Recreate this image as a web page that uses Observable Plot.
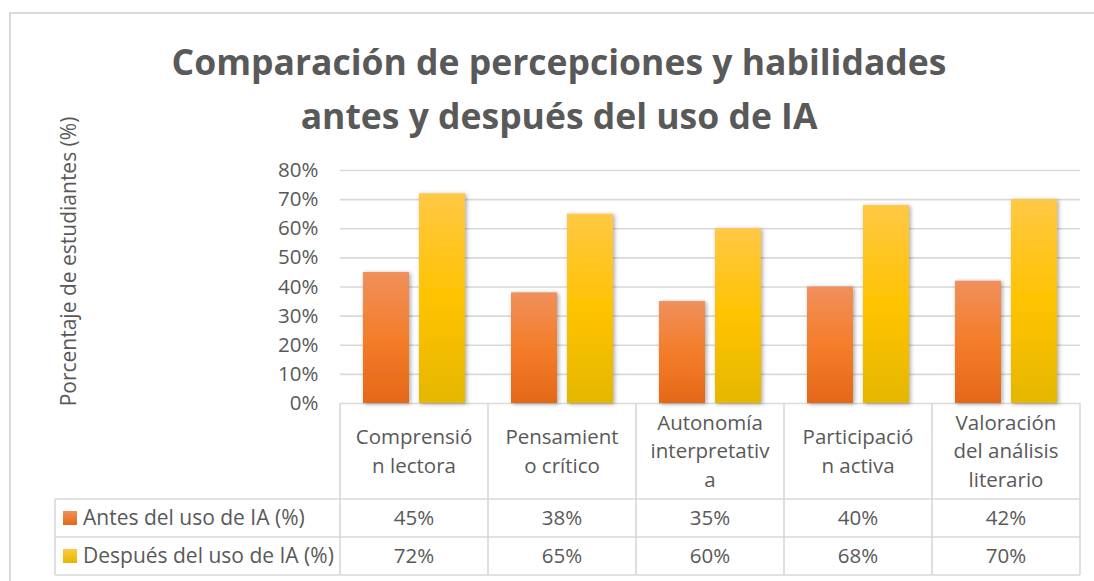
<!DOCTYPE html>
<html>
<head>
<meta charset="utf-8">
<script src="https://cdn.jsdelivr.net/npm/d3@7"></script>
<script src="https://cdn.jsdelivr.net/npm/@observablehq/plot@0.6"></script>
<style>
  html, body { margin: 0; padding: 0; background: #fff; }
  #wrap { position: relative; width: 1094px; height: 581px; overflow: hidden; font-family: "Open Sans", sans-serif; }
  #frame { position: absolute; left: 9px; top: 12px; width: 1200px; height: 700px; border: 2px solid #D9D9D9; box-sizing: border-box; }
  #wrap svg { position: absolute; left: 0; top: 0; }
</style>
</head>
<body>
<div id="wrap"><div id="frame"></div></div>
<script>
// ---------- data ----------
const categories = ["Comprensión lectora", "Pensamiento crítico", "Autonomía interpretativa", "Participación activa", "Valoración del análisis literario"];
const categoryLines = [["Comprensió", "n lectora"], ["Pensamient", "o crítico"], ["Autonomía", "interpretativ", "a"], ["Participació", "n activa"], ["Valoración", "del análisis", "literario"]];
const series = ["Antes del uso de IA (%)", "Después del uso de IA (%)"];
const antes = [45, 38, 35, 40, 42];
const despues = [72, 65, 60, 68, 70];
const yTicks = [0, 10, 20, 30, 40, 50, 60, 70, 80];
const titleLines = ["Comparación de percepciones y habilidades", "antes y después del uso de IA"];
const yLabel = "Porcentaje de estudiantes (%)";

const values = [antes, despues];
const data = categories.flatMap((c, i) => series.map((s, j) => ({category: c, series: s, value: values[j][i]})));

const textColor = "#595959";
const lineColor = "#D9D9D9";
const fontSize = 20.5;

const plot = Plot.plot({
  width: 1094,
  height: 581,
  marginTop: 170,
  marginBottom: 178,
  marginLeft: 340,
  marginRight: 14,
  style: {fontFamily: "Open Sans, sans-serif", fontSize: fontSize + "px", color: textColor, background: "transparent", overflow: "visible"},
  fx: {domain: categories, paddingInner: 0, paddingOuter: 0, axis: null, label: null},
  x: {domain: series, paddingInner: 0.1786, paddingOuter: 0.41, axis: null},
  y: {domain: [0, 80], ticks: yTicks, tickFormat: d => d + "%", tickSize: 0, tickPadding: 22, label: null},
  marks: [
    Plot.ruleY(yTicks, {stroke: lineColor, strokeWidth: 1.6}),
    Plot.barY(data.filter(d => d.series === series[0]), {fx: "category", x: "series", y: "value", fill: "url(#gradAntes)", inset: 0}),
    Plot.barY(data.filter(d => d.series === series[1]), {fx: "category", x: "series", y: "value", fill: "url(#gradDespues)", inset: 0})
  ]
});

const root = d3.select(plot);
const defs = root.insert("defs", ":first-child");
function grad(id, stops) {
  const g = defs.append("linearGradient").attr("id", id).attr("x1", 0).attr("y1", 0).attr("x2", 0).attr("y2", 1);
  stops.forEach(([o, c]) => g.append("stop").attr("offset", o).attr("stop-color", c));
}
grad("gradAntes", [[0, "#F0905C"], [0.5, "#F47D2A"], [1, "#E46818"]]);
grad("gradDespues", [[0, "#FFC845"], [0.5, "#FFC300"], [1, "#E5B700"]]);
const f = defs.append("filter").attr("id", "shadow").attr("x", "-20%").attr("y", "-20%").attr("width", "150%").attr("height", "140%");
f.append("feDropShadow").attr("dx", 1.5).attr("dy", 1).attr("stdDeviation", 2).attr("flood-color", "#000").attr("flood-opacity", 0.35);
root.selectAll("g[aria-label='bar'] rect").attr("filter", "url(#shadow)");

document.getElementById("wrap").appendChild(plot);

// ---------- overlay: title, y label, data table ----------
const fx = plot.scale("fx");
const y = plot.scale("y");
const step = fx.bandwidth !== undefined ? fx.bandwidth : 148;
const xEnd = fx.apply(categories[categories.length - 1]) + step;
const yBase = y.apply(0);

const ov = d3.select("#wrap").append("svg").attr("width", 1094).attr("height", 581)
  .style("font-family", "Open Sans, sans-serif").style("pointer-events", "none");

// title
ov.append("g").selectAll("text").data(titleLines).join("text")
  .attr("x", 559).attr("y", (d, i) => 75 + i * 54)
  .attr("text-anchor", "middle").attr("font-size", 35.5).attr("font-weight", 700).attr("fill", textColor)
  .text(d => d);

// y label
ov.append("text").attr("transform", `translate(76,${(y.apply(80) + yBase) / 2 - 25}) rotate(-90)`)
  .attr("text-anchor", "middle").attr("font-size", 21).attr("fill", textColor).text(yLabel);

// table lines
const rowTop = 499, rowMid = 537, rowBot = 575, legendLeft = 55;
const lines = [];
lines.push([legendLeft, rowTop, xEnd, rowTop]);
lines.push([legendLeft, rowMid, xEnd, rowMid]);
lines.push([legendLeft, rowBot, xEnd, rowBot]);
lines.push([legendLeft, rowTop, legendLeft, rowBot]);
categories.forEach(c => lines.push([fx.apply(c), yBase, fx.apply(c), rowBot]));
lines.push([xEnd, yBase, xEnd, rowBot]);
ov.append("g").selectAll("line").data(lines).join("line")
  .attr("x1", d => d[0]).attr("y1", d => d[1]).attr("x2", d => d[2]).attr("y2", d => d[3])
  .attr("stroke", lineColor).attr("stroke-width", 1.6);

// header labels
const headerCenter = (yBase + rowTop) / 2;
const lh = 28.5;
const hg = ov.append("g").attr("font-size", fontSize).attr("fill", textColor).attr("text-anchor", "middle");
categories.forEach((c, i) => {
  const ls = categoryLines[i];
  const cx = fx.apply(c) + step / 2;
  ls.forEach((t, k) => {
    hg.append("text").attr("x", cx).attr("y", headerCenter + (k - (ls.length - 1) / 2) * lh + 7.3).text(t);
  });
});

// data rows
const rowsY = [(rowTop + rowMid) / 2, (rowMid + rowBot) / 2];
const sw = ov.append("defs");
[["swA", "#F0905C", "#E46818"], ["swD", "#FFC845", "#E5B700"]].forEach(([id, a, b]) => {
  const g = sw.append("linearGradient").attr("id", id).attr("x1", 0).attr("y1", 0).attr("x2", 0).attr("y2", 1);
  g.append("stop").attr("offset", 0).attr("stop-color", a);
  g.append("stop").attr("offset", 1).attr("stop-color", b);
});
series.forEach((s, j) => {
  const cy = rowsY[j];
  ov.append("rect").attr("x", 63).attr("y", cy - 7).attr("width", 14).attr("height", 14).attr("fill", j === 0 ? "url(#swA)" : "url(#swD)");
  ov.append("text").attr("x", 83).attr("y", cy + 7.3).attr("font-size", 21).attr("fill", textColor).text(s);
  categories.forEach((c, i) => {
    ov.append("text").attr("x", fx.apply(c) + step / 2).attr("y", cy + 7.3)
      .attr("text-anchor", "middle").attr("font-size", fontSize).attr("fill", textColor)
      .text(values[j][i] + "%");
  });
});
</script>
</body>
</html>
